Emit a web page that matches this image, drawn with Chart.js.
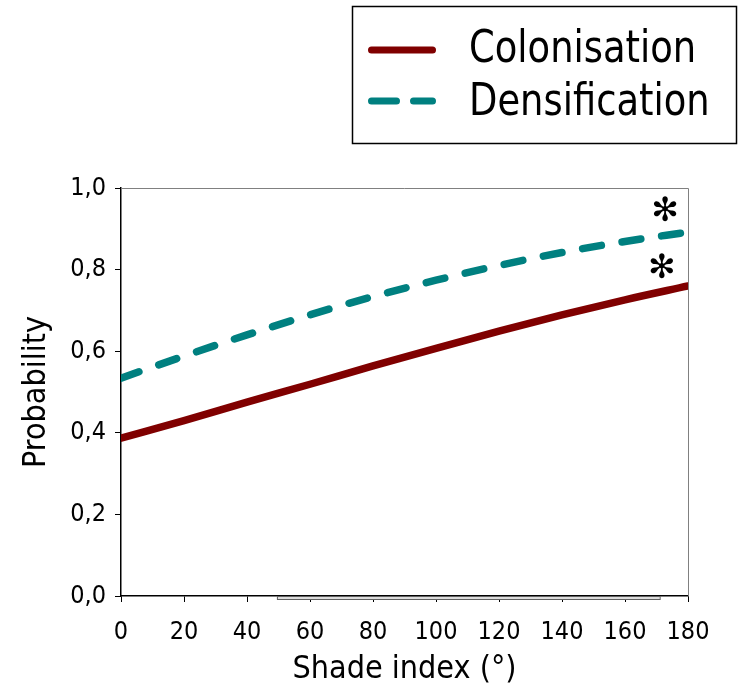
<!DOCTYPE html>
<html>
<head>
<meta charset="utf-8">
<script src="https://cdn.jsdelivr.net/npm/chart.js@4"></script>
<style>
  html, body { margin: 0; padding: 0; background: #fff; }
</style>
</head>
<body>
<canvas id="chart" width="755" height="693"></canvas>
<script>
// probabilities read at every 20 degrees of shade index
const shadeIndex = [0, 20, 40, 60, 80, 100, 120, 140, 160, 180];
const colonisation = [0.387, 0.430, 0.475, 0.519, 0.564, 0.607, 0.649, 0.689, 0.726, 0.760];
const densification = [0.534, 0.588, 0.640, 0.689, 0.734, 0.774, 0.810, 0.842, 0.869, 0.892];
const seriesNames = ['Colonisation', 'Densification'];
const seriesColors = ['#800000', '#008080'];
const xTicks = [0, 20, 40, 60, 80, 100, 120, 140, 160, 180];
const yTicks = [0, 0.2, 0.4, 0.6, 0.8, 1.0];
// asterisks marking significant effects
const starMarks = [
  { x: 172.7, y: 0.94 },
  { x: 171.7, y: 0.80 },
];
// range of observed shade index values along the x axis
const shadeRange = [49.5, 171];

const FONT = '"DejaVu Sans Condensed", "DejaVu Sans", sans-serif';

const toPoints = function (values) {
  return shadeIndex.map((x, i) => ({ x: x, y: values[i] }));
};

// gray frame on top/right, little range box under the axis, asterisks
const extrasPlugin = {
  id: 'extras',
  beforeDatasetsDraw(chart) {
    const { ctx, chartArea: a, scales } = chart;
    ctx.save();
    ctx.strokeStyle = '#808080';
    ctx.lineWidth = 1;
    ctx.beginPath();
    ctx.moveTo(a.left, a.top + 0.5);
    ctx.lineTo(a.right + 0.5, a.top + 0.5);
    ctx.lineTo(a.right + 0.5, a.bottom);
    ctx.stroke();
    const x0 = scales.x.getPixelForValue(shadeRange[0]);
    const x1 = scales.x.getPixelForValue(shadeRange[1]);
    ctx.fillStyle = '#dcdcdc';
    ctx.fillRect(x0, a.bottom, x1 - x0, 3);
    ctx.strokeStyle = '#606060';
    ctx.strokeRect(x0 + 0.5, a.bottom + 0.5, x1 - x0, 3);
    ctx.restore();
  },
  afterDraw(chart) {
    const { ctx, scales } = chart;
    ctx.save();
    ctx.fillStyle = '#000';
    ctx.font = 'bold 33px "DejaVu Sans"';
    ctx.textAlign = 'center';
    ctx.textBaseline = 'middle';
    for (const s of starMarks) {
      ctx.fillText('\u273B', scales.x.getPixelForValue(s.x), scales.y.getPixelForValue(s.y));
    }
    ctx.restore();
  },
};

// boxed legend in the top right corner
const legendDash = [[], [25, 17]];
const boxLegendPlugin = {
  id: 'boxLegend',
  afterDraw(chart) {
    const ctx = chart.ctx;
    ctx.save();
    ctx.strokeStyle = '#000';
    ctx.lineWidth = 1.5;
    ctx.strokeRect(352.5, 6.5, 384, 137);
    chart.data.datasets.forEach((ds, i) => {
      const y = 50 + i * 51;
      ctx.strokeStyle = ds.borderColor;
      ctx.lineWidth = 7;
      ctx.lineCap = 'round';
      ctx.setLineDash(legendDash[i]);
      ctx.beginPath();
      ctx.moveTo(371.5, y);
      ctx.lineTo(432.5, y);
      ctx.stroke();
      ctx.setLineDash([]);
      ctx.fillStyle = '#000';
      ctx.font = '41px ' + FONT;
      ctx.textBaseline = 'alphabetic';
      ctx.save();
      ctx.translate(469, 62 + i * 53);
      ctx.scale(1, 1.08);
      ctx.fillText(ds.label, 0, 0);
      ctx.restore();
    });
    ctx.restore();
  },
};

const tickFont = { family: FONT, size: 25 };
const titleFont = { family: FONT, size: 32 };

const chart = new Chart(document.querySelector('#chart'), {
  type: 'line',
  data: {
    datasets: [
      {
        label: seriesNames[0],
        data: toPoints(colonisation),
        borderColor: seriesColors[0],
        borderWidth: 7.5,
        borderCapStyle: 'round',
        cubicInterpolationMode: 'monotone',
        pointRadius: 0,
      },
      {
        label: seriesNames[1],
        data: toPoints(densification),
        borderColor: seriesColors[1],
        borderWidth: 7.5,
        borderDash: [19, 21],
        borderCapStyle: 'round',
        cubicInterpolationMode: 'monotone',
        pointRadius: 0,
      },
    ],
  },
  options: {
    responsive: false,
    devicePixelRatio: 1,
    animation: false,
    layout: { padding: { top: 188, right: 67, left: 0, bottom: 0 } },
    plugins: {
      legend: { display: false },
      tooltip: { enabled: false },
    },
    scales: {
      x: {
        type: 'linear',
        min: 0,
        max: 180,
        afterBuildTicks: (scale) => {
          scale.ticks = xTicks.map((v) => ({ value: v }));
        },
        afterFit: (scale) => {
          scale.height = 97;
        },
        grid: {
          drawOnChartArea: false,
          tickLength: 6,
          color: '#000',
          lineWidth: 1,
        },
        border: { color: '#000', width: 1.5 },
        ticks: { font: tickFont, color: '#000', padding: 15, maxRotation: 0 },
        title: {
          display: true,
          text: 'Shade index (°)',
          font: titleFont,
          color: '#000',
          padding: { top: 0, bottom: 4 },
        },
      },
      y: {
        min: 0,
        max: 1,
        afterBuildTicks: (scale) => {
          scale.ticks = yTicks.map((v) => ({ value: v }));
        },
        afterFit: (scale) => {
          scale.width = 121;
        },
        grid: {
          drawOnChartArea: false,
          tickLength: 6,
          color: '#000',
          lineWidth: 1,
        },
        border: { color: '#000', width: 1.5 },
        ticks: {
          font: tickFont,
          color: '#000',
          padding: 9,
          callback: (v) => v.toFixed(1).replace('.', ','),
        },
        title: {
          display: true,
          text: 'Probability',
          font: titleFont,
          color: '#000',
          padding: { top: 17, bottom: 0 },
        },
      },
    },
  },
  plugins: [extrasPlugin, boxLegendPlugin],
});
</script>
</body>
</html>
